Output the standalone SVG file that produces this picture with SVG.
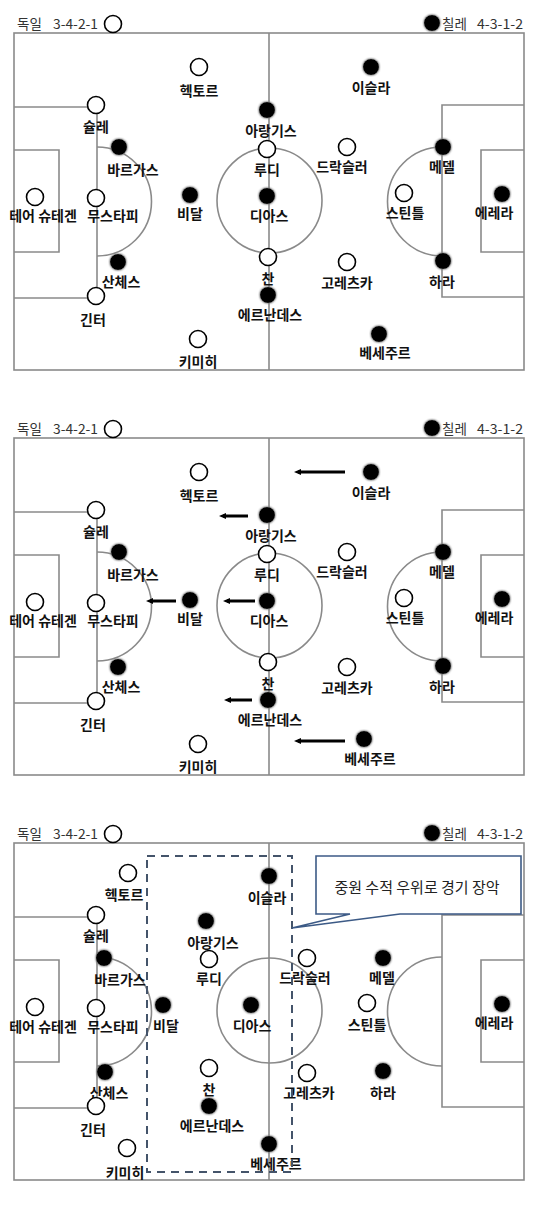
<svg xmlns="http://www.w3.org/2000/svg" xmlns:xlink="http://www.w3.org/1999/xlink" width="540" height="1215" viewBox="0 0 540 1215">
<style>
text{font-family:"Noto Sans CJK KR","Liberation Sans",sans-serif;}
.fl{fill:none;stroke:#8a8a8a;stroke-width:1.6;}
.o{fill:#fff;stroke:#000;stroke-width:1.6;}
.f{fill:#000;filter:url(#glow);}
.lbl{font-size:14px;font-weight:bold;text-anchor:middle;fill:#111;}
.ttl{font-size:13.5px;fill:#333;}
.arr{stroke:#000;stroke-width:3;marker-end:url(#ah);}
.dash{fill:none;stroke:#44546a;stroke-width:2;stroke-dasharray:8 6;}
.call{fill:#fff;stroke:#3c5a86;stroke-width:1.6;}
.ct{font-size:15px;fill:#222;text-anchor:middle;}
</style>
<defs>
<filter id="glow" x="-50%" y="-50%" width="200%" height="200%">
<feGaussianBlur in="SourceAlpha" stdDeviation="1.3" result="b"/>
<feFlood flood-color="#777"/>
<feComposite in2="b" operator="in" result="g"/>
<feMerge><feMergeNode in="g"/><feMergeNode in="g"/><feMergeNode in="SourceGraphic"/></feMerge>
</filter>
<marker id="ah" markerUnits="userSpaceOnUse" viewBox="0 0 7 7" markerWidth="7" markerHeight="7" refX="3" refY="3.5" orient="auto">
<path d="M0,0.5 L7,3.5 L0,6.5 z" fill="#000"/>
</marker>
<g id="field">
<rect class="fl" x="14" y="33" width="510" height="337"/>
<line class="fl" x1="269" y1="33" x2="269" y2="370"/>
<circle class="fl" cx="269.5" cy="200.5" r="52.5"/>
<polyline class="fl" points="14,107 97,107 97,298 14,298"/>
<polyline class="fl" points="14,150 59,150 59,252 14,252"/>
<path class="fl" d="M97,147 A54,54 0 0 1 97,256"/>
<polyline class="fl" points="524,105 442,105 442,297 524,297"/>
<polyline class="fl" points="524,150 481,150 481,252 524,252"/>
<path class="fl" d="M442,147 A54,54 0 0 0 442,256"/>
</g>
<g id="header">
<text class="ttl" x="17" y="29">독일</text>
<text class="ttl" x="53" y="29" textLength="45" lengthAdjust="spacingAndGlyphs">3-4-2-1</text>
<circle class="o" cx="113" cy="24" r="8.5"/>
<circle class="f" cx="432" cy="23" r="8"/>
<text class="ttl" x="442" y="29">칠레</text>
<text class="ttl" x="477" y="29" textLength="46" lengthAdjust="spacingAndGlyphs">4-3-1-2</text>
</g>
</defs>

<!-- Panel 1 -->
<g id="panel1">
<use xlink:href="#field"/>
<use xlink:href="#header"/>
<g id="p1-hector"><circle class="o" cx="199" cy="67" r="8.5"/><text class="lbl" x="199" y="96">헥토르</text></g>
<g id="p1-isla"><circle class="f" cx="371" cy="67" r="8"/><text class="lbl" x="371" y="93">이슬라</text></g>
<g id="p1-aranguiz"><circle class="f" cx="267" cy="110" r="8"/><text class="lbl" x="271" y="136">아랑기스</text></g>
<g id="p1-schulle"><circle class="o" cx="96" cy="105" r="8.5"/><text class="lbl" x="96" y="132">슐레</text></g>
<g id="p1-vargas"><circle class="f" cx="119" cy="147" r="8"/><text class="lbl" x="133" y="175">바르가스</text></g>
<g id="p1-rudy"><circle class="o" cx="267" cy="149" r="8.5"/><text class="lbl" x="267" y="175">루디</text></g>
<g id="p1-draxler"><circle class="o" cx="347" cy="147" r="8.5"/><text class="lbl" x="342" y="172">드락슬러</text></g>
<g id="p1-medel"><circle class="f" cx="443" cy="147" r="8"/><text class="lbl" x="442" y="172">메델</text></g>
<g id="p1-terstegen"><circle class="o" cx="35" cy="197" r="8.5"/><text class="lbl" x="43" y="221">테어 슈테겐</text></g>
<g id="p1-mustafi"><circle class="o" cx="96" cy="198" r="8.5"/><text class="lbl" x="113" y="221">무스타피</text></g>
<g id="p1-vidal"><circle class="f" cx="190" cy="195" r="8"/><text class="lbl" x="190" y="219">비달</text></g>
<g id="p1-diaz"><circle class="f" cx="267" cy="196" r="8"/><text class="lbl" x="269" y="221">디아스</text></g>
<g id="p1-stindl"><circle class="o" cx="404" cy="193" r="8.5"/><text class="lbl" x="405" y="218">스틴틀</text></g>
<g id="p1-herrera"><circle class="f" cx="502" cy="194" r="8"/><text class="lbl" x="494" y="218">에레라</text></g>
<g id="p1-sanchez"><circle class="f" cx="118" cy="262" r="8"/><text class="lbl" x="121" y="287">산체스</text></g>
<g id="p1-ginter"><circle class="o" cx="96" cy="296" r="8.5"/><text class="lbl" x="93" y="325">긴터</text></g>
<g id="p1-can"><circle class="o" cx="268" cy="257" r="8.5"/><text class="lbl" x="268" y="284">찬</text></g>
<g id="p1-hernandez"><circle class="f" cx="268" cy="295" r="8"/><text class="lbl" x="270" y="320">에르난데스</text></g>
<g id="p1-goretzka"><circle class="o" cx="347" cy="262" r="8.5"/><text class="lbl" x="347" y="288">고레츠카</text></g>
<g id="p1-jara"><circle class="f" cx="443" cy="261" r="8"/><text class="lbl" x="442" y="287">하라</text></g>
<g id="p1-kimmich"><circle class="o" cx="198" cy="339" r="8.5"/><text class="lbl" x="198" y="367">키미히</text></g>
<g id="p1-beausejour"><circle class="f" cx="379" cy="334" r="8"/><text class="lbl" x="385" y="358">베세주르</text></g>
</g>

<!-- Panel 2 -->
<g id="panel2" transform="translate(0,405)">
<use xlink:href="#field"/>
<use xlink:href="#header"/>
<g id="p2-hector"><circle class="o" cx="199" cy="67" r="8.5"/><text class="lbl" x="199" y="96">헥토르</text></g>
<g id="p2-isla"><circle class="f" cx="371" cy="67" r="8"/><text class="lbl" x="371" y="93">이슬라</text></g>
<g id="p2-aranguiz"><circle class="f" cx="267" cy="110" r="8"/><text class="lbl" x="271" y="136">아랑기스</text></g>
<g id="p2-schulle"><circle class="o" cx="96" cy="105" r="8.5"/><text class="lbl" x="96" y="132">슐레</text></g>
<g id="p2-vargas"><circle class="f" cx="119" cy="147" r="8"/><text class="lbl" x="133" y="175">바르가스</text></g>
<g id="p2-rudy"><circle class="o" cx="267" cy="149" r="8.5"/><text class="lbl" x="267" y="175">루디</text></g>
<g id="p2-draxler"><circle class="o" cx="347" cy="147" r="8.5"/><text class="lbl" x="342" y="172">드락슬러</text></g>
<g id="p2-medel"><circle class="f" cx="443" cy="147" r="8"/><text class="lbl" x="442" y="172">메델</text></g>
<g id="p2-terstegen"><circle class="o" cx="35" cy="197" r="8.5"/><text class="lbl" x="43" y="221">테어 슈테겐</text></g>
<g id="p2-mustafi"><circle class="o" cx="96" cy="198" r="8.5"/><text class="lbl" x="113" y="221">무스타피</text></g>
<g id="p2-vidal"><circle class="f" cx="190" cy="195" r="8"/><text class="lbl" x="190" y="219">비달</text></g>
<g id="p2-diaz"><circle class="f" cx="267" cy="196" r="8"/><text class="lbl" x="269" y="221">디아스</text></g>
<g id="p2-stindl"><circle class="o" cx="404" cy="193" r="8.5"/><text class="lbl" x="405" y="218">스틴틀</text></g>
<g id="p2-herrera"><circle class="f" cx="502" cy="194" r="8"/><text class="lbl" x="494" y="218">에레라</text></g>
<g id="p2-sanchez"><circle class="f" cx="118" cy="262" r="8"/><text class="lbl" x="121" y="287">산체스</text></g>
<g id="p2-ginter"><circle class="o" cx="96" cy="296" r="8.5"/><text class="lbl" x="93" y="325">긴터</text></g>
<g id="p2-can"><circle class="o" cx="268" cy="257" r="8.5"/><text class="lbl" x="268" y="284">찬</text></g>
<g id="p2-hernandez"><circle class="f" cx="268" cy="295" r="8"/><text class="lbl" x="270" y="320">에르난데스</text></g>
<g id="p2-goretzka"><circle class="o" cx="347" cy="262" r="8.5"/><text class="lbl" x="347" y="288">고레츠카</text></g>
<g id="p2-jara"><circle class="f" cx="443" cy="261" r="8"/><text class="lbl" x="442" y="287">하라</text></g>
<g id="p2-kimmich"><circle class="o" cx="198" cy="339" r="8.5"/><text class="lbl" x="198" y="367">키미히</text></g>
<g id="p2-beausejour"><circle class="f" cx="364" cy="334" r="8"/><text class="lbl" x="370" y="359">베세주르</text></g>
<g id="connectors">
<line class="arr" x1="345" y1="67" x2="298" y2="67"/>
<line class="arr" x1="248" y1="111" x2="223" y2="111"/>
<line class="arr" x1="176" y1="196" x2="150" y2="196"/>
<line class="arr" x1="255" y1="196" x2="227" y2="196"/>
<line class="arr" x1="252" y1="295" x2="228" y2="295"/>
<line class="arr" x1="345" y1="336" x2="298" y2="336"/>
</g>
</g>

<!-- Panel 3 -->
<g id="panel3" transform="translate(0,810)">
<use xlink:href="#field"/>
<use xlink:href="#header"/>
<g id="p3-hector"><circle class="o" cx="128" cy="63" r="8.5"/><text class="lbl" x="124" y="90">헥토르</text></g>
<g id="p3-isla"><circle class="f" cx="269" cy="66" r="8"/><text class="lbl" x="267" y="93">이슬라</text></g>
<g id="p3-schulle"><circle class="o" cx="96" cy="105" r="8.5"/><text class="lbl" x="96" y="131">슐레</text></g>
<g id="p3-aranguiz"><circle class="f" cx="206" cy="111" r="8"/><text class="lbl" x="213" y="138">아랑기스</text></g>
<g id="p3-rudy"><circle class="o" cx="209" cy="149" r="8.5"/><text class="lbl" x="209" y="174">루디</text></g>
<g id="p3-vargas"><circle class="f" cx="104" cy="148" r="8"/><text class="lbl" x="120" y="175">바르가스</text></g>
<g id="p3-draxler"><circle class="o" cx="307" cy="148" r="8.5"/><text class="lbl" x="305" y="173">드락슬러</text></g>
<g id="p3-medel"><circle class="f" cx="383" cy="148" r="8"/><text class="lbl" x="382" y="173">메델</text></g>
<g id="p3-terstegen"><circle class="o" cx="35" cy="197" r="8.5"/><text class="lbl" x="43" y="222">테어 슈테겐</text></g>
<g id="p3-mustafi"><circle class="o" cx="96" cy="198" r="8.5"/><text class="lbl" x="113" y="222">무스타피</text></g>
<g id="p3-vidal"><circle class="f" cx="163" cy="195" r="8"/><text class="lbl" x="166" y="221">비달</text></g>
<g id="p3-diaz"><circle class="f" cx="251" cy="195" r="8"/><text class="lbl" x="252" y="221">디아스</text></g>
<g id="p3-stindl"><circle class="o" cx="367" cy="193" r="8.5"/><text class="lbl" x="367" y="220">스틴틀</text></g>
<g id="p3-herrera"><circle class="f" cx="502" cy="194" r="8"/><text class="lbl" x="494" y="218">에레라</text></g>
<g id="p3-sanchez"><circle class="f" cx="105" cy="262" r="8"/><text class="lbl" x="109" y="288">산체스</text></g>
<g id="p3-ginter"><circle class="o" cx="96" cy="296" r="8.5"/><text class="lbl" x="93" y="325">긴터</text></g>
<g id="p3-can"><circle class="o" cx="209" cy="258" r="8.5"/><text class="lbl" x="209" y="285">찬</text></g>
<g id="p3-hernandez"><circle class="f" cx="209" cy="296" r="8"/><text class="lbl" x="212" y="321">에르난데스</text></g>
<g id="p3-goretzka"><circle class="o" cx="307" cy="263" r="8.5"/><text class="lbl" x="309" y="288">고레츠카</text></g>
<g id="p3-jara"><circle class="f" cx="383" cy="261" r="8"/><text class="lbl" x="383" y="288">하라</text></g>
<g id="p3-kimmich"><circle class="o" cx="127" cy="338" r="8.5"/><text class="lbl" x="125" y="368">키미히</text></g>
<g id="p3-beausejour"><circle class="f" cx="269" cy="334" r="8"/><text class="lbl" x="276" y="359">베세주르</text></g>
<rect id="p3-zone" class="dash" x="147" y="46" width="145" height="316"/>
<g id="p3-callout">
<path class="call" d="M316,46 H521 V104 H400 L292,118 L350,104 H316 Z"/>
<text class="ct" x="417" y="83">중원 수적 우위로 경기 장악</text>
</g>
</g>
</svg>
